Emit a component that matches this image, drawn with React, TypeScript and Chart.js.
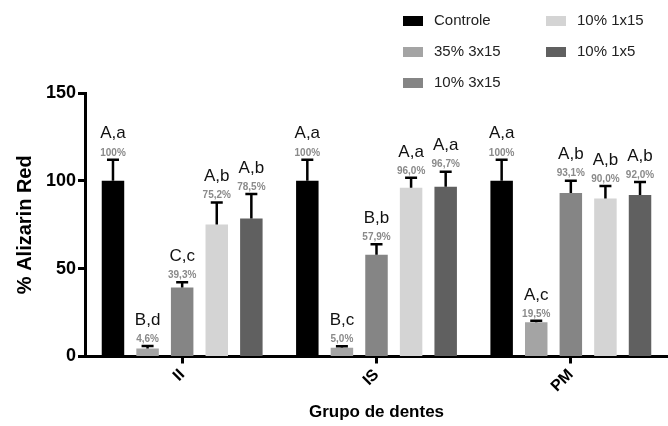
import React, { useEffect, useRef } from "react";
import { Chart, registerables } from "chart.js";

Chart.register(...registerables);

const categories = ["II", "IS", "PM"];
const seriesNames = ["Controle", "35% 3x15", "10% 3x15", "10% 1x15", "10% 1x5"];
const seriesColors = ["#000000", "#a4a4a4", "#858585", "#d4d4d4", "#606060"];

const controle = [100, 100, 100];
const s35_3x15 = [4.6, 5.0, 19.5];
const s10_3x15 = [39.3, 57.9, 93.1];
const s10_1x15 = [75.2, 96.0, 90.0];
const s10_1x5 = [78.5, 96.7, 92.0];

const errControle = [12, 12, 12];
const err35_3x15 = [1.4, 0.8, 0.8];
const err10_3x15 = [3, 6, 7];
const err10_1x15 = [12.5, 5.7, 7];
const err10_1x5 = [14, 8.5, 7.4];

const letControle = ["A,a", "A,a", "A,a"];
const let35_3x15 = ["B,d", "B,c", "A,c"];
const let10_3x15 = ["C,c", "B,b", "A,b"];
const let10_1x15 = ["A,b", "A,a", "A,b"];
const let10_1x5 = ["A,b", "A,a", "A,b"];

const yTicks = [0, 50, 100, 150];

const seriesValues = [controle, s35_3x15, s10_3x15, s10_1x15, s10_1x5];
const seriesErrors = [errControle, err35_3x15, err10_3x15, err10_1x15, err10_1x5];
const seriesLetters = [letControle, let35_3x15, let10_3x15, let10_1x15, let10_1x5];

const FONT = "'Liberation Sans', Arial, Helvetica, sans-serif";

const fmtPct = (v: number) =>
  v === 100 ? "100%" : v.toFixed(1).replace(".", ",") + "%";

const errorLabelPlugin = {
  id: "errorLabels",
  afterDatasetsDraw(chart: any) {
    const ctx = chart.ctx;
    const y = chart.scales.y;
    ctx.save();
    chart.data.datasets.forEach((ds: any, di: number) => {
      const meta = chart.getDatasetMeta(di);
      meta.data.forEach((bar: any, i: number) => {
        const v = ds.data[i];
        const e = seriesErrors[di][i];
        const top = y.getPixelForValue(v + e);
        ctx.strokeStyle = "#000";
        ctx.lineWidth = 2.5;
        ctx.beginPath();
        ctx.moveTo(bar.x, bar.y);
        ctx.lineTo(bar.x, top);
        ctx.moveTo(bar.x - 6, top);
        ctx.lineTo(bar.x + 6, top);
        ctx.stroke();
        ctx.textAlign = "center";
        ctx.textBaseline = "middle";
        ctx.fillStyle = "#8a8a8a";
        ctx.font = `bold 10px ${FONT}`;
        ctx.fillText(fmtPct(v), bar.x, top - 7);
        ctx.fillStyle = "#111";
        ctx.font = `17px ${FONT}`;
        ctx.fillText(seriesLetters[di][i], bar.x, top - 26);
      });
    });
    ctx.restore();
  },
};

const legendPlugin = {
  id: "customLegend",
  afterDraw(chart: any) {
    const ctx = chart.ctx;
    const cols = [403, 546];
    const rows = [21, 52, 83];
    ctx.save();
    ctx.font = `15px ${FONT}`;
    ctx.textBaseline = "middle";
    ctx.textAlign = "left";
    seriesNames.forEach((name, i) => {
      const col = i < 3 ? 0 : 1;
      const row = i < 3 ? i : i - 3;
      const x = cols[col];
      const yy = rows[row];
      ctx.fillStyle = seriesColors[i];
      ctx.fillRect(x, yy - 5, 20, 10);
      ctx.fillStyle = "#222";
      ctx.fillText(name, x + 31, yy);
    });
    ctx.restore();
  },
};

export default function App() {
  const ref = useRef<HTMLCanvasElement>(null);
  useEffect(() => {
    if (!ref.current) return;
    const chart = new Chart(ref.current, {
      type: "bar",
      data: {
        labels: categories,
        datasets: seriesNames.map((name, i) => ({
          label: name,
          data: seriesValues[i],
          backgroundColor: seriesColors[i],
          borderWidth: 0,
          categoryPercentage: 0.89,
          barPercentage: 0.65,
        })),
      },
      options: {
        responsive: false,
        animation: false,
        layout: { padding: { top: 93, right: 0, left: 0, bottom: 0 } },
        plugins: {
          legend: { display: false },
          tooltip: { enabled: false },
        },
        scales: {
          x: {
            offset: true,
            afterFit: (s: any) => {
              s.height = 69.5;
            },
            grid: {
              offset: false,
              drawOnChartArea: false,
              drawTicks: true,
              tickLength: 7,
              tickWidth: 3,
              tickColor: "#000",
            },
            border: { display: true, width: 3, color: "#000" },
            ticks: {
              maxRotation: 45,
              minRotation: 45,
              padding: 2,
              color: "#000",
              font: { family: FONT, size: 16, weight: "bold" },
            },
            title: {
              display: true,
              text: "Grupo de dentes",
              color: "#000",
              font: { family: FONT, size: 17, weight: "bold" },
              padding: { top: 0, bottom: 3 },
            },
          },
          y: {
            min: 0,
            max: 150,
            afterFit: (s: any) => {
              s.width = 85;
            },
            afterBuildTicks: (s: any) => {
              s.ticks = yTicks.map((v) => ({ value: v }));
            },
            grid: {
              drawOnChartArea: false,
              drawTicks: true,
              tickLength: 7,
              tickWidth: 3,
              tickColor: "#000",
            },
            border: { display: true, width: 3, color: "#000" },
            ticks: {
              padding: 2,
              color: "#000",
              font: { family: FONT, size: 18, weight: "bold" },
            },
            title: {
              display: true,
              text: "% Alizarin Red",
              color: "#000",
              font: { family: FONT, size: 20, weight: "bold" },
              padding: { top: 13, bottom: 0 },
            },
          },
        },
      },
      plugins: [errorLabelPlugin, legendPlugin],
    });
    return () => chart.destroy();
  }, []);
  return (
    <div style={{ position: "fixed", left: 0, top: 0, width: 668, height: 426, background: "#fff" }}>
      <canvas ref={ref} width={668} height={426} />
    </div>
  );
}
